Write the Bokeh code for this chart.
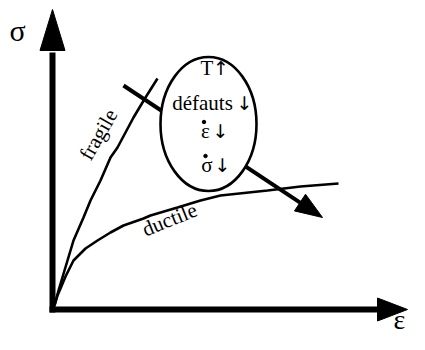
import numpy as np
from bokeh.plotting import figure
from bokeh.models import Range1d
from bokeh.core.properties import value
from bokeh.embed import file_html
from bokeh.resources import INLINE

# ---- diagram data (sketch coordinates, y grows downward) ----
origin = [52, 309]
y_axis_end = [52, 9]
x_axis_end = [407, 309]

fragile_x = [54, 58, 67, 73, 83, 90, 100, 110, 117, 133, 145, 157]
fragile_y = [305, 290, 260, 240, 217, 200, 180, 157, 147, 117, 97, 78]

ductile_x = [54, 57, 60, 65, 73, 85, 97, 110, 123, 143, 150, 177, 200, 220, 267, 300, 338]
ductile_y = [305, 295, 288, 276, 260, 248, 240, 232, 225, 218, 215, 207, 200, 195, 190, 186, 183]

trend_start = [123, 85]
trend_end = [322, 217]

bubble_center = [208, 123.5]
bubble_size = [96, 134]

bubble_symbols = ["T", "d\u00e9fauts", "\u03b5", "\u03c3"]
bubble_arrows = ["\u2191", "\u2193", "\u2193", "\u2193"]
bubble_is_rate = [False, False, True, True]
symbol_x = [206.5, 202, 205, 206.5]
arrow_x = [220.5, 244, 220, 222]
line_y = [75, 110, 138, 172]

curve_labels = ["fragile", "ductile"]
curve_label_x = [98, 169]
curve_label_y = [134, 219]
curve_label_angle_deg = [60, 22]

axis_labels = ["\u03c3", "\u03b5"]
axis_label_x = [17, 399]
axis_label_y = [38, 327]
axis_label_size = ["30px", "28px"]

BASELINE_FIX = 8  # rendered alphabetic baseline sits lower than requested

SERIF = value("Liberation Serif")
SANS = value("DejaVu Sans")

p = figure(width=409, height=334, output_backend="svg", toolbar_location=None,
           x_range=Range1d(0, 409), y_range=Range1d(334, 0),
           min_border=0, min_border_left=0, min_border_right=0,
           min_border_top=0, min_border_bottom=0)
p.axis.visible = False
p.grid.visible = False
p.outline_line_color = None
p.background_fill_color = "white"
p.border_fill_color = "white"


def head(start, tip, length, half_w):
    s = np.array(start, float)
    t = np.array(tip, float)
    u = (t - s) / np.linalg.norm(t - s)
    n = np.array([-u[1], u[0]])
    b = t - u * length
    pts = [t, b + n * half_w, b - n * half_w]
    return [q[0] for q in pts], [q[1] for q in pts], b


# axes
yx, yy, yb = head(origin, y_axis_end, 41, 12.5)
p.line([origin[0], yb[0]], [origin[1] + 3, yb[1] + 2], line_width=6, color="black")
p.patch(yx, yy, color="black")
xx, xy, xb = head(origin, x_axis_end, 30, 11.5)
p.line([origin[0] - 3, xb[0] + 2], [origin[1], xb[1]], line_width=6, color="black")
p.patch(xx, xy, color="black")

# curves
p.line(fragile_x, fragile_y, line_width=2.6, color="black")
p.line(ductile_x, ductile_y, line_width=2.6, color="black")

# trend arrow
tx, ty, tb = head(trend_start, trend_end, 27, 10)
p.line([trend_start[0], tb[0] + 2], [trend_start[1], tb[1] + 1.3], line_width=4, color="black")
p.patch(tx, ty, color="black")

# bubble
p.ellipse(x=[bubble_center[0]], y=[bubble_center[1]], width=[bubble_size[0]], height=[bubble_size[1]],
          fill_color="white", line_color="black", line_width=2.6)

text_y = [ly - BASELINE_FIX for ly in line_y]
p.text(x=symbol_x, y=text_y, text=bubble_symbols, text_font=SERIF, text_font_size="21px",
       text_align="center", text_baseline="alphabetic", text_color="black")
p.text(x=arrow_x, y=text_y, text=bubble_arrows, text_font=SANS, text_font_size="19px",
       text_align="center", text_baseline="alphabetic", text_color="black")
dot_x = [sx - 1.5 for sx, r in zip(symbol_x, bubble_is_rate) if r]
dot_y = [ly - 16.5 for ly, r in zip(line_y, bubble_is_rate) if r]
p.scatter(dot_x, dot_y, size=3.5, color="black")

p.text(x=curve_label_x, y=curve_label_y, text=curve_labels,
       angle=[np.deg2rad(a) for a in curve_label_angle_deg],
       text_font=SERIF, text_font_size="21px", text_align="center", text_baseline="middle",
       text_color="black")

p.text(x="x", y="y", text="t", text_font_size="s",
       source=dict(x=axis_label_x, y=[ay - BASELINE_FIX for ay in axis_label_y],
                   t=axis_labels, s=axis_label_size),
       text_font=SERIF, text_align="center", text_baseline="alphabetic", text_color="black")

open("out.html", "w").write(file_html(p, INLINE))
